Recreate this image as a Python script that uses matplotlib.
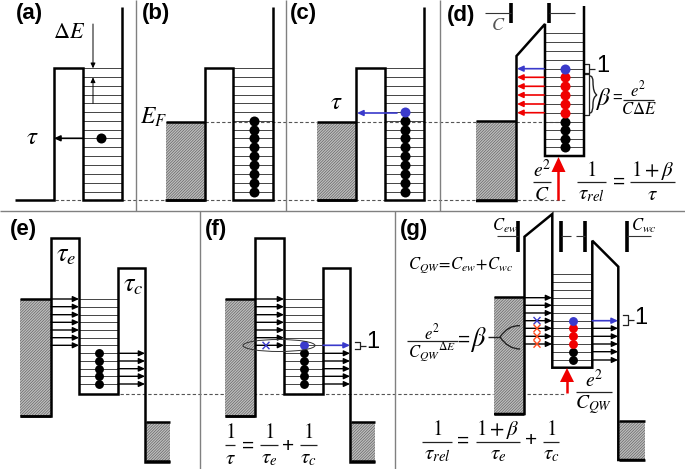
import matplotlib
matplotlib.use("Agg")
import matplotlib.pyplot as plt
from matplotlib.patches import Rectangle, Ellipse, PathPatch
from matplotlib.path import Path

plt.rcParams['font.family'] = ['Liberation Sans', 'DejaVu Sans']
plt.rcParams['mathtext.fontset'] = 'stix'
plt.rcParams['hatch.linewidth'] = 0.4

# ==========================
# Band edges (image pixels)
# ==========================
band_a = [(15, 200.5), (54, 200.5), (54, 68.5), (83, 68.5), (83, 200.5), (122, 200.5), (122, 7)]
band_b = [(165, 200.5), (205, 200.5), (205, 68.5), (233.5, 68.5), (233.5, 200.5), (273, 200.5), (273, 7)]
band_c = [(317, 200.5), (356, 200.5), (356, 68.5), (385, 68.5), (385, 200.5), (424, 200.5), (424, 7)]
band_d = [(476, 201), (516.5, 201), (516.5, 56), (545, 24), (545, 156), (584, 156), (584, 6)]
band_e = [(20, 416), (51, 416), (51, 238), (79, 238), (79, 394), (118, 394), (118, 268.5),
          (145, 268.5), (145, 462), (170, 462)]
band_f = [(225, 416), (255.5, 416), (255.5, 238), (284, 238), (284, 394), (323, 394), (323, 268.5),
          (350, 268.5), (350, 462), (375, 462)]
band_g = [(494, 414), (524.5, 414), (524.5, 236.7), (552.3, 214), (552.3, 367.7), (592.3, 367.7),
          (592.3, 240.7), (618.3, 266.7), (618.3, 460), (645, 460)]

# reservoirs: x0, x1, top, bottom
reservoirs = [
    (166, 205, 122, 200), (317, 356, 122, 200), (476, 516, 121, 200),
    (20, 51, 299, 416), (225, 255, 299, 416), (146, 170, 422, 461),
    (351, 375, 422, 461), (494, 524, 297, 414), (619, 645, 421, 460),
]

# Levels
levels_top = [68.3, 77.3, 86, 94.7, 103.3, 112.3, 121, 130, 138.3, 147.3, 156, 165, 173.7, 182.7, 191.7]
levels_d = [33.3, 42.3, 51, 60, 68.7, 77.3, 86.3, 95, 104, 112.7, 121.7, 130.3, 139, 147.3]
levels_ef = [299, 306.7, 314.7, 322.3, 330, 337.7, 345.3, 353.3, 361, 368.7, 376.3, 384]
levels_g = [274.3, 282, 290, 297.7, 305.3, 313, 320.7, 328.3, 336.3, 344, 351.7, 360]

# Electrons
dots_bc = [121, 130, 138.3, 147.3, 156, 165, 173.7, 182.7, 191.7]
dots_d_red = [77.3, 86.3, 95, 104, 112.7]
dots_d_black = [121.7, 130.3, 139, 147.3]
dots_ef = [353.3, 361, 368.7, 376.3, 384]
dots_g_red = [328.3, 336.3, 344]
dots_g_black = [351.7, 360]

BLUE = "#3a3acb"
RED = "#f00000"
GRAY = "#808080"

fig = plt.figure(figsize=(6.85, 4.69), dpi=100)
ax = fig.add_axes([0, 0, 1, 1])
ax.set_xlim(0, 685)
ax.set_ylim(469, 0)
ax.axis("off")


def line(x0, y0, x1, y1, lw=1.0, color="black", ls="-", z=3):
    ax.plot([x0, x1], [y0, y1], color=color, lw=lw, ls=ls, zorder=z, solid_capstyle="butt")


def band(points):
    ax.plot([p[0] for p in points], [p[1] for p in points], color="black", lw=1.8, zorder=5,
            solid_joinstyle="miter", solid_capstyle="butt")


def levels(x0, x1, ys):
    for y in ys:
        line(x0, y, x1, y, lw=0.7, color="#444444", z=2)


def dots(x, ys, color="black", ms=7.2):
    ax.plot([x] * len(ys), ys, "o", color=color, ms=ms, mew=0, zorder=6)


def arrow(x0, y0, x1, y1, color="black", lw=1.0, size=6):
    ax.annotate("", xy=(x1, y1), xytext=(x0, y0), zorder=6,
                arrowprops=dict(arrowstyle="-|>,head_width=0.28,head_length=0.6", color=color, lw=lw,
                                mutation_scale=size, shrinkA=0, shrinkB=0))


def dashed(x0, x1, y):
    line(x0, y, x1, y, lw=0.8, color="#555555", ls=(0, (3, 2)), z=1)


def mtext(x, y, s, size=15, color="black"):
    ax.text(x, y, s, fontsize=size, color=color, ha="center", va="center", zorder=7)


def frac(x0, x1, y, top, bottom, size=15, top_dy=12, bottom_dy=13):
    line(x0, y, x1, y, lw=0.9, color="#222222")
    mid = (x0 + x1) / 2
    mtext(mid, y - top_dy, top, size)
    mtext(mid, y + bottom_dy, bottom, size)


def cap(x, y0, y1, x_end, y_mid):
    line(x, y0, x, y1, lw=2.6)
    line(x, y_mid, x_end, y_mid, lw=0.8, color="#333333")


def square_bracket(x0, x1, y0, y1, x_tail=None):
    ax.plot([x0, x1, x1, x0], [y0, y0, y1, y1], color="#222222", lw=0.9, zorder=4)
    if x_tail is not None:
        line(x1, (y0 + y1) / 2, x_tail, (y0 + y1) / 2, lw=0.9, color="#222222")


def curve(verts, lw=1.0):
    codes = [Path.MOVETO] + [Path.CURVE3] * (len(verts) - 1)
    ax.add_patch(PathPatch(Path(verts, codes), fc="none", ec="#222222", lw=lw, zorder=7))


def cross(x, y, color):
    ax.plot([x - 3, x + 3], [y - 3.2, y + 3.2], color=color, lw=1.0, zorder=7)
    ax.plot([x - 3, x + 3], [y + 3.2, y - 3.2], color=color, lw=1.0, zorder=7)


# ==========================
# Frame lines
# ==========================
line(0, 211, 685, 211, lw=1.0, color=GRAY)
for x in [136.5, 286, 440.5]:
    line(x, 0, x, 211, lw=1.0, color=GRAY)
for x in [200, 395]:
    line(x, 211, x, 469, lw=1.0, color=GRAY)

# ==========================
# Reservoirs
# ==========================
for x0, x1, top, bottom in reservoirs:
    ax.add_patch(Rectangle((x0, top), x1 - x0, bottom - top, facecolor="#bdbdbd",
                           edgecolor="#555555", hatch="/" * 12, lw=0, zorder=2))
    line(x0, top, x1, top, lw=1.8, z=4)
    line(x0, bottom, x1, bottom, lw=1.8, z=4)

# ==========================
# Dashed Fermi lines
# ==========================
dashed(55, 476, 200.5)
dashed(517, 565, 200.5)
dashed(205, 317, 122)
dashed(356, 476, 122)
dashed(516, 565, 122)
dashed(120, 493, 394)
dashed(527, 566, 394)

# ==========================
# Bands and levels
# ==========================
for b in [band_a, band_b, band_c, band_d, band_e, band_f, band_g]:
    band(b)

levels(83, 122, levels_top)
levels(233.5, 273, levels_top)
levels(385, 424, levels_top)
levels(545, 584, levels_d)
levels(79, 118, levels_ef)
levels(284, 323, levels_ef)
levels(552.3, 592.3, levels_g)

# ==========================
# Panel (a)
# ==========================
dots(101.5, [138.3])
arrow(83, 138.3, 54, 138.3, lw=1.2)
arrow(93, 24, 93, 68.3, lw=0.7, size=5)
arrow(93, 103.3, 93, 77.3, lw=0.7, size=5)
mtext(69, 32, r"$\Delta E$", 16)
mtext(32, 137, r"$\tau$", 18)

# ==========================
# Panel (b), (c)
# ==========================
dots(254, dots_bc)
mtext(154, 117, r"$E_F$", 17)
dots(405, dots_bc)
dots(405, [112.3], BLUE)
arrow(397, 113, 357, 113, BLUE, lw=1.2)
mtext(336, 102, r"$\tau$", 18)

# ==========================
# Panel (d)
# ==========================
dots(565, dots_d_black)
dots(565, dots_d_red, RED)
dots(565, [68.7], BLUE)
arrow(544, 68.7, 517, 68.7, BLUE, lw=1.2)
for y in dots_d_red:
    arrow(544, y, 517, y, RED, lw=1.2)
cap(511, 3, 23, 485, 13)
cap(549, 3, 23, 575, 13)
mtext(498, 25, r"$C$", 13, "#555555")
square_bracket(584, 589, 64.5, 73, 595)
mtext(603, 66, "1", 17)
square_bracket(584, 589, 74, 115)
curve([(590, 76), (593, 76), (593, 82), (593, 93), (597, 95)])
curve([(597, 95), (593, 97), (593, 104), (593, 113), (590, 113)])
mtext(603, 99, r"$\beta$", 18)
mtext(617, 98, "=", 12)
frac(623, 654, 100, r"$e^2$", r"$C\Delta E$", 12, 11, 9)
line(558.5, 200, 558.5, 170, lw=1.8, color=RED)
ax.fill([551.5, 558.5, 565.5], [172, 157, 172], color=RED, zorder=6, lw=0)
frac(533, 551, 182, r"$e^2$", r"$C$", 14)
frac(577, 606, 182, r"$1$", r"$\tau_{rel}$", 15)
mtext(619, 182, "=", 15)
frac(630, 675, 182, r"$1+\beta$", r"$\tau$", 15)

# ==========================
# Panel (e)
# ==========================
for y in levels_ef[:7]:
    arrow(51, y, 79, y)
for y in levels_ef[7:]:
    arrow(118, y, 145, y)
dots(99, dots_ef, ms=6.4)
mtext(66, 255, r"$\tau_e$", 19)
mtext(133, 285, r"$\tau_c$", 19)

# ==========================
# Panel (f)
# ==========================
for y in levels_ef[:7]:
    arrow(255.5, y, 284, y)
for y in levels_ef[7:]:
    arrow(323, y, 350, y)
dots(304, dots_ef, ms=6.4)
dots(304, [345.3], BLUE, ms=6.4)
arrow(323, 345.3, 350, 345.3, BLUE, lw=1.2)
cross(266, 345.5, BLUE)
ax.add_patch(Ellipse((279, 345.5), 72, 12, fc="none", ec="#333333", lw=0.7, zorder=7))
square_bracket(355, 360, 342, 349.5, 366)
mtext(373, 342, "1", 17)
frac(225, 235, 445, r"$1$", r"$\tau$", 15)
mtext(248, 446, "=", 15)
frac(260, 278, 445, r"$1$", r"$\tau_e$", 15)
mtext(288, 446, "+", 15)
frac(300, 317, 445, r"$1$", r"$\tau_c$", 15)

# ==========================
# Panel (g)
# ==========================
for y in levels_g[3:10]:
    arrow(524.5, y, 552, y)
for y in levels_g[7:]:
    arrow(592.3, y, 618, y)
dots(573, dots_g_black, ms=6.4)
dots(573, dots_g_red, RED, ms=6.4)
dots(573, [320.7], BLUE, ms=6.4)
arrow(592.3, 320.7, 618, 320.7, BLUE, lw=1.2)
cross(537, 320.7, BLUE)
for y in dots_g_red:
    cross(537, y, "#ff4a1c")
cap(518.5, 221, 252, 497, 235.7)
mtext(505, 226, r"$C_{ew}$", 12)
cap(560.7, 221, 252, 571, 235.7)
cap(585, 221, 252, 576, 235.7)
cap(626.7, 221, 252, 651, 235.7)
mtext(644, 226, r"$C_{wc}$", 12)
mtext(460, 265, r"$C_{QW}\!=\!C_{ew}\!+\!C_{wc}$", 12)
frac(407, 458, 341, r"$e^2$", r"$C_{QW}{}^{\Delta E}$", 12, 9, 11)
mtext(464, 340, "=", 15)
mtext(478, 340, r"$\beta$", 19)
line(488, 337, 500, 337, lw=1.0, color="#222222")
curve([(500, 337), (508, 325), (520, 325.7)])
curve([(500, 337), (508, 349), (520, 349)])
square_bracket(623, 628, 315, 325, 634)
mtext(641, 318, "1", 17)
line(567, 393, 567, 381, lw=1.8, color=RED)
ax.fill([560, 567, 574], [382, 368, 382], color=RED, zorder=6, lw=0)
frac(576, 612, 392, r"$e^2$", r"$C_{QW}$", 14)
frac(422, 452, 441.7, r"$1$", r"$\tau_{rel}$", 15)
mtext(463, 441, "=", 15)
frac(476, 520, 441.7, r"$1+\beta$", r"$\tau_e$", 15)
mtext(531, 441, "+", 15)
frac(543, 559, 441.7, r"$1$", r"$\tau_c$", 15)

# ==========================
# Panel labels
# ==========================
panel_labels = ["(a)", "(b)", "(c)", "(d)", "(e)", "(f)", "(g)"]
label_x = [16, 142, 290, 447, 10, 205, 400]
label_y = [14, 14, 14, 15, 229, 230, 230]
for s, x, y in zip(panel_labels, label_x, label_y):
    ax.text(x, y, s, fontsize=16, fontweight="bold", ha="left", va="center", zorder=8)

fig.savefig("out.png", dpi=100)
